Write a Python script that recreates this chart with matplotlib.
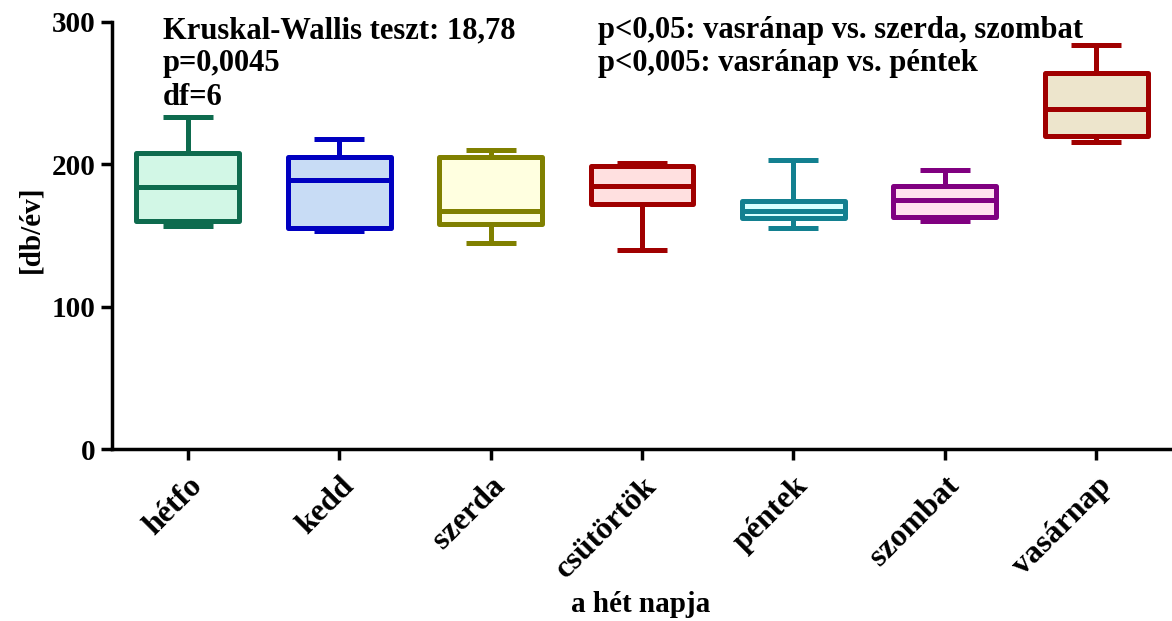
import matplotlib
matplotlib.use("Agg")
import matplotlib.pyplot as plt

days = ["hétfo", "kedd", "szerda", "csütörtök", "péntek", "szombat", "vasárnap"]
whisker_low = [157, 153, 145, 140, 155, 160, 216]
q1 = [160, 155, 158, 172, 162, 163, 220]
median = [184, 189, 167, 185, 167.5, 175, 239]
q3 = [208, 205, 205, 199, 174, 185, 264]
whisker_high = [233, 218, 210, 201, 203, 196, 284]

edge_colors = ["#0E6B4E", "#0000C0", "#808000", "#A00000", "#138090", "#800080", "#A00000"]
fill_colors = ["#D2F7E6", "#C8DCF5", "#FFFFE0", "#FFE0E0", "#D8FFFF", "#FFE0EE", "#EDE5CC"]

y_ticks = [0, 100, 200, 300]
ylabel = "[db/év]"
xlabel = "a hét napja"
text_left = "Kruskal-Wallis teszt: 18,78\np=0,0045\ndf=6"
text_right = "p<0,05: vasránap vs. szerda, szombat\np<0,005: vasránap vs. péntek"

plt.rcParams["font.family"] = ["Liberation Serif", "DejaVu Serif"]
plt.rcParams["font.weight"] = "bold"

fig = plt.figure(figsize=(11.72, 6.21), dpi=100)
ax = fig.add_axes([112 / 1172, 1 - 449 / 621, 1 - 112 / 1172, (449 - 22) / 621])

stats = []
for i, d in enumerate(days):
    stats.append(dict(label=d, whislo=whisker_low[i], q1=q1[i], med=median[i],
                      q3=q3[i], whishi=whisker_high[i], fliers=[]))

lw = 3.6
bp = ax.bxp(stats, positions=list(range(len(days))), widths=0.68, capwidths=0.33,
            patch_artist=True, showfliers=False)
for i in range(len(days)):
    c = edge_colors[i]
    box = bp["boxes"][i]
    box.set_facecolor(fill_colors[i])
    box.set_edgecolor(c)
    box.set_linewidth(lw)
    box.set_joinstyle("round")
    bp["medians"][i].set_color(c)
    bp["medians"][i].set_linewidth(lw)
    bp["medians"][i].set_solid_capstyle("butt")
    for w in bp["whiskers"][2 * i:2 * i + 2]:
        w.set_color(c)
        w.set_linewidth(lw)
    for cp in bp["caps"][2 * i:2 * i + 2]:
        cp.set_color(c)
        cp.set_linewidth(lw)
        cp.set_solid_capstyle("butt")

ax.set_xlim(-0.5, len(days) - 0.5)
ax.set_ylim(0, 300)
ax.set_yticks(y_ticks)
ax.set_yticklabels([str(t) for t in y_ticks], fontsize=21, fontweight="bold")
ax.set_xticks(range(len(days)))
ax.set_xticklabels(days, rotation=45, ha="right", rotation_mode="anchor",
                   fontsize=23, fontweight="bold")
for s in ["top", "right"]:
    ax.spines[s].set_visible(False)
for s in ["left", "bottom"]:
    ax.spines[s].set_linewidth(2.5)
ax.tick_params(axis="both", width=2.5, length=8, direction="out")
ax.tick_params(axis="x", pad=8)
ax.tick_params(axis="y", pad=4)

fig.text(641 / 1172, 1 - 605 / 621, xlabel, fontsize=21, fontweight="bold",
         ha="center", va="center")
fig.text(31 / 1172, 1 - 229 / 621, ylabel, fontsize=21, fontweight="bold",
         ha="center", va="center", rotation=90)

fig.text(163 / 1172, 1 - 16 / 621, text_left, fontsize=22, fontweight="bold",
         va="top", ha="left", linespacing=1.2)
fig.text(598 / 1172, 1 - 16 / 621, text_right, fontsize=22, fontweight="bold",
         va="top", ha="left", linespacing=1.2)

fig.savefig("out.png", dpi=100)
